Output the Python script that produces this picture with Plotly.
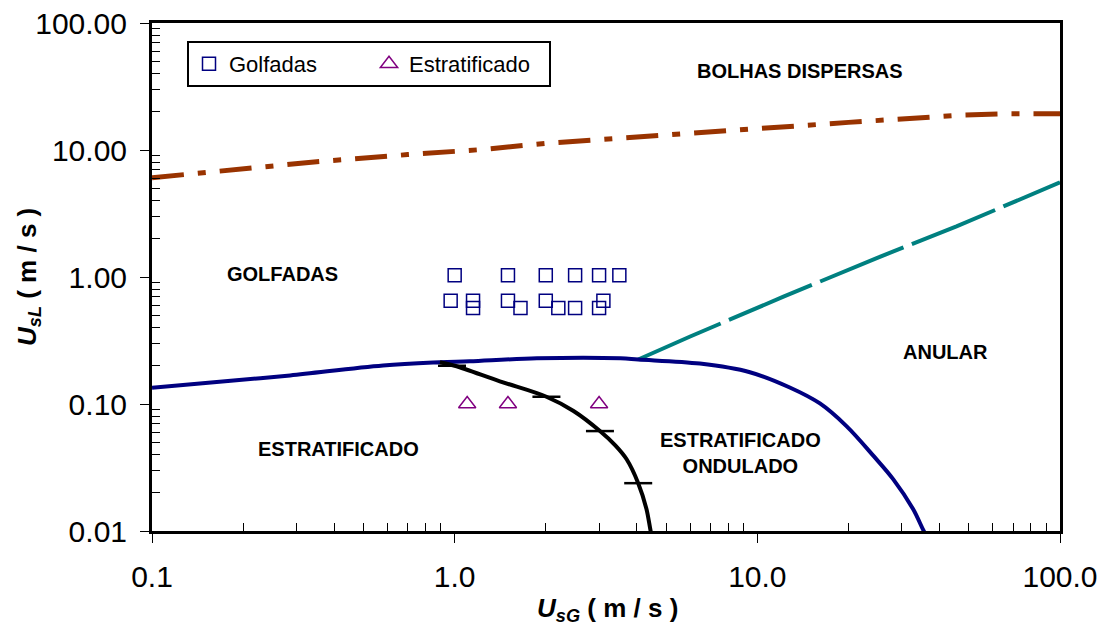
import plotly.graph_objects as go

# ---------------- data ----------------
golf_x = [1.0, 1.5, 2.0, 2.5, 3.0, 3.5, 0.97, 1.15, 1.5, 2.0, 3.1, 1.15, 1.65, 2.2, 2.5, 3.0]
golf_y = [1.03, 1.03, 1.03, 1.03, 1.03, 1.03, 0.65, 0.65, 0.65, 0.65, 0.65, 0.57, 0.57, 0.57, 0.57, 0.57]

strat_x = [1.1, 1.5, 3.0]
strat_y = [0.1, 0.1, 0.1]

# dispersed-bubble boundary (brown)
bd_x = [0.1, 0.186, 0.35, 0.7, 1.24, 2.0, 3.0, 5.0, 10.0, 14.4, 20.0, 46.7, 68.0, 100.0]
bd_y = [6.05, 6.97, 8.09, 9.2, 10.1, 11.3, 12.1, 13.1, 14.8, 15.9, 16.5, 18.8, 19.3, 19.3]

# annular boundary (teal)
an_x = [4.04, 6.0, 12.2, 24.8, 45.5, 100.0]
an_y = [0.224, 0.34, 0.70, 1.41, 2.5, 5.57]

# stratified boundary (navy)
st_x = [0.1, 0.186, 0.286, 0.58, 0.894, 1.12, 1.87, 3.53, 4.04, 6.46, 9.45, 12.8, 16.1, 19.7, 24.2, 28.1, 32.7, 36.2, 37.5]
st_y = [0.134, 0.153, 0.168, 0.201, 0.213, 0.217, 0.229, 0.229, 0.224, 0.208, 0.178, 0.135, 0.101, 0.067, 0.039, 0.0256, 0.0149, 0.0092, 0.0085]

# smooth / wavy stratified boundary (black)
sw_x = [0.894, 1.0, 1.41, 2.01, 2.47, 3.02, 3.40, 3.70, 4.04, 4.30, 4.48, 4.55]
sw_y = [0.213, 0.200, 0.151, 0.114, 0.088, 0.0612, 0.0470, 0.0367, 0.0238, 0.0150, 0.00916, 0.0085]
tk_x = [0.98, 2.01, 3.02, 4.04]
tk_y = [0.200, 0.114, 0.0612, 0.0238]

x_tickvals = [0.1, 1, 10, 100]
x_ticktext = ["0.1", "1.0", "10.0", "100.0"]
y_tickvals = [0.01, 0.1, 1, 10, 100]
y_ticktext = ["0.01", "0.10", "1.00", "10.00", "100.00"]

FONT = "Liberation Sans, Arial, sans-serif"

fig = go.Figure()

fig.add_trace(go.Scatter(x=bd_x, y=bd_y, mode="lines", showlegend=False,
                         line=dict(color="#993300", width=5, dash="32px,14px,8px,14px")))
fig.add_trace(go.Scatter(x=an_x, y=an_y, mode="lines", showlegend=False,
                         line=dict(color="#008080", width=4, dash="90px,9px")))
fig.add_trace(go.Scatter(x=st_x, y=st_y, mode="lines", showlegend=False,
                         line=dict(color="#000080", width=4, shape="spline", smoothing=1.0)))
fig.add_trace(go.Scatter(x=sw_x, y=sw_y, mode="lines", showlegend=False,
                         line=dict(color="black", width=4, shape="spline", smoothing=1.0)))
fig.add_trace(go.Scatter(x=tk_x, y=tk_y, mode="markers", showlegend=False,
                         marker=dict(symbol="line-ew", size=20,
                                     line=dict(color="black", width=2.5))))

fig.add_trace(go.Scatter(x=golf_x, y=golf_y, mode="markers", name="Golfadas",
                         marker=dict(symbol="square-open", size=13, color="#000080",
                                     line=dict(color="#000080", width=1.5))))
fig.add_trace(go.Scatter(x=strat_x, y=strat_y, mode="markers", name="Estratificado",
                         marker=dict(symbol="triangle-up-open", size=15, color="#800080",
                                     line=dict(color="#800080", width=1.5))))

minor_x = [m * 10 ** d for d in range(-1, 2) for m in range(2, 10)]
minor_y = [m * 10 ** d for d in range(-2, 2) for m in range(2, 10)]

fig.update_xaxes(type="log", range=[-1, 2], showgrid=False, zeroline=False, automargin=False,
                 showline=True, linecolor="black", linewidth=3, mirror=True,
                 tickmode="array", tickvals=x_tickvals, ticktext=x_ticktext,
                 ticks="outside", ticklen=9, tickwidth=1, tickcolor="black",
                 ticklabelstandoff=8,
                 tickfont=dict(family=FONT, size=30, color="black"),
                 minor=dict(tickmode="array", tickvals=minor_x, ticks="inside",
                            ticklen=8, tickwidth=1, tickcolor="black", showgrid=False))
fig.update_yaxes(type="log", range=[-2, 2], showgrid=False, zeroline=False, automargin=False,
                 showline=True, linecolor="black", linewidth=3, mirror=True,
                 tickmode="array", tickvals=y_tickvals, ticktext=y_ticktext,
                 ticks="outside", ticklen=9, tickwidth=1, tickcolor="black",
                 ticklabelstandoff=7,
                 tickfont=dict(family=FONT, size=30, color="black"),
                 minor=dict(tickmode="array", tickvals=minor_y, ticks="inside",
                            ticklen=8, tickwidth=1, tickcolor="black", showgrid=False))

W, H = 1106, 630
L, R, T, B = 152, 46, 23, 99
pw, ph = W - L - R, H - T - B


def px(xp):
    return (xp - L) / pw


def py(yp):
    return (H - B - yp) / ph


labels = [
    ("BOLHAS DISPERSAS", 800, 71),
    ("GOLFADAS", 282, 274),
    ("ANULAR", 945, 352),
    ("ESTRATIFICADO", 338, 449),
    ("ESTRATIFICADO<br>ONDULADO", 740, 453),
]
for txt, xx, yy in labels:
    fig.add_annotation(text=txt, x=px(xx), y=py(yy), xref="paper", yref="paper",
                       showarrow=False, xanchor="center", yanchor="middle",
                       font=dict(family=FONT, size=20, color="black", weight="bold"),
                       align="center")

fig.add_annotation(text="<b><i>U</i></b><sub><b><i>sG</i></b></sub><b> ( m / s )</b>",
                   x=px(607), y=py(609), xref="paper", yref="paper", showarrow=False,
                   xanchor="center", yanchor="middle",
                   font=dict(family=FONT, size=26, color="black"))
fig.add_annotation(text="<b><i>U</i></b><sub><b><i>sL</i></b></sub><b> ( m / s )</b>",
                   x=px(28), y=py(277), xref="paper", yref="paper", showarrow=False,
                   xanchor="center", yanchor="middle", textangle=-90,
                   font=dict(family=FONT, size=26, color="black"))

fig.update_layout(
    width=W, height=H,
    margin=dict(l=L, r=R, t=T, b=B, autoexpand=False),
    paper_bgcolor="white", plot_bgcolor="white",
    showlegend=True,
    legend=dict(orientation="h", x=px(187), y=py(41), xanchor="left", yanchor="top",
                bordercolor="black", borderwidth=2, bgcolor="white",
                font=dict(family=FONT, size=22, color="black"),
                entrywidth=135, entrywidthmode="pixels", itemwidth=30),
)

fig.write_html("out.html")
